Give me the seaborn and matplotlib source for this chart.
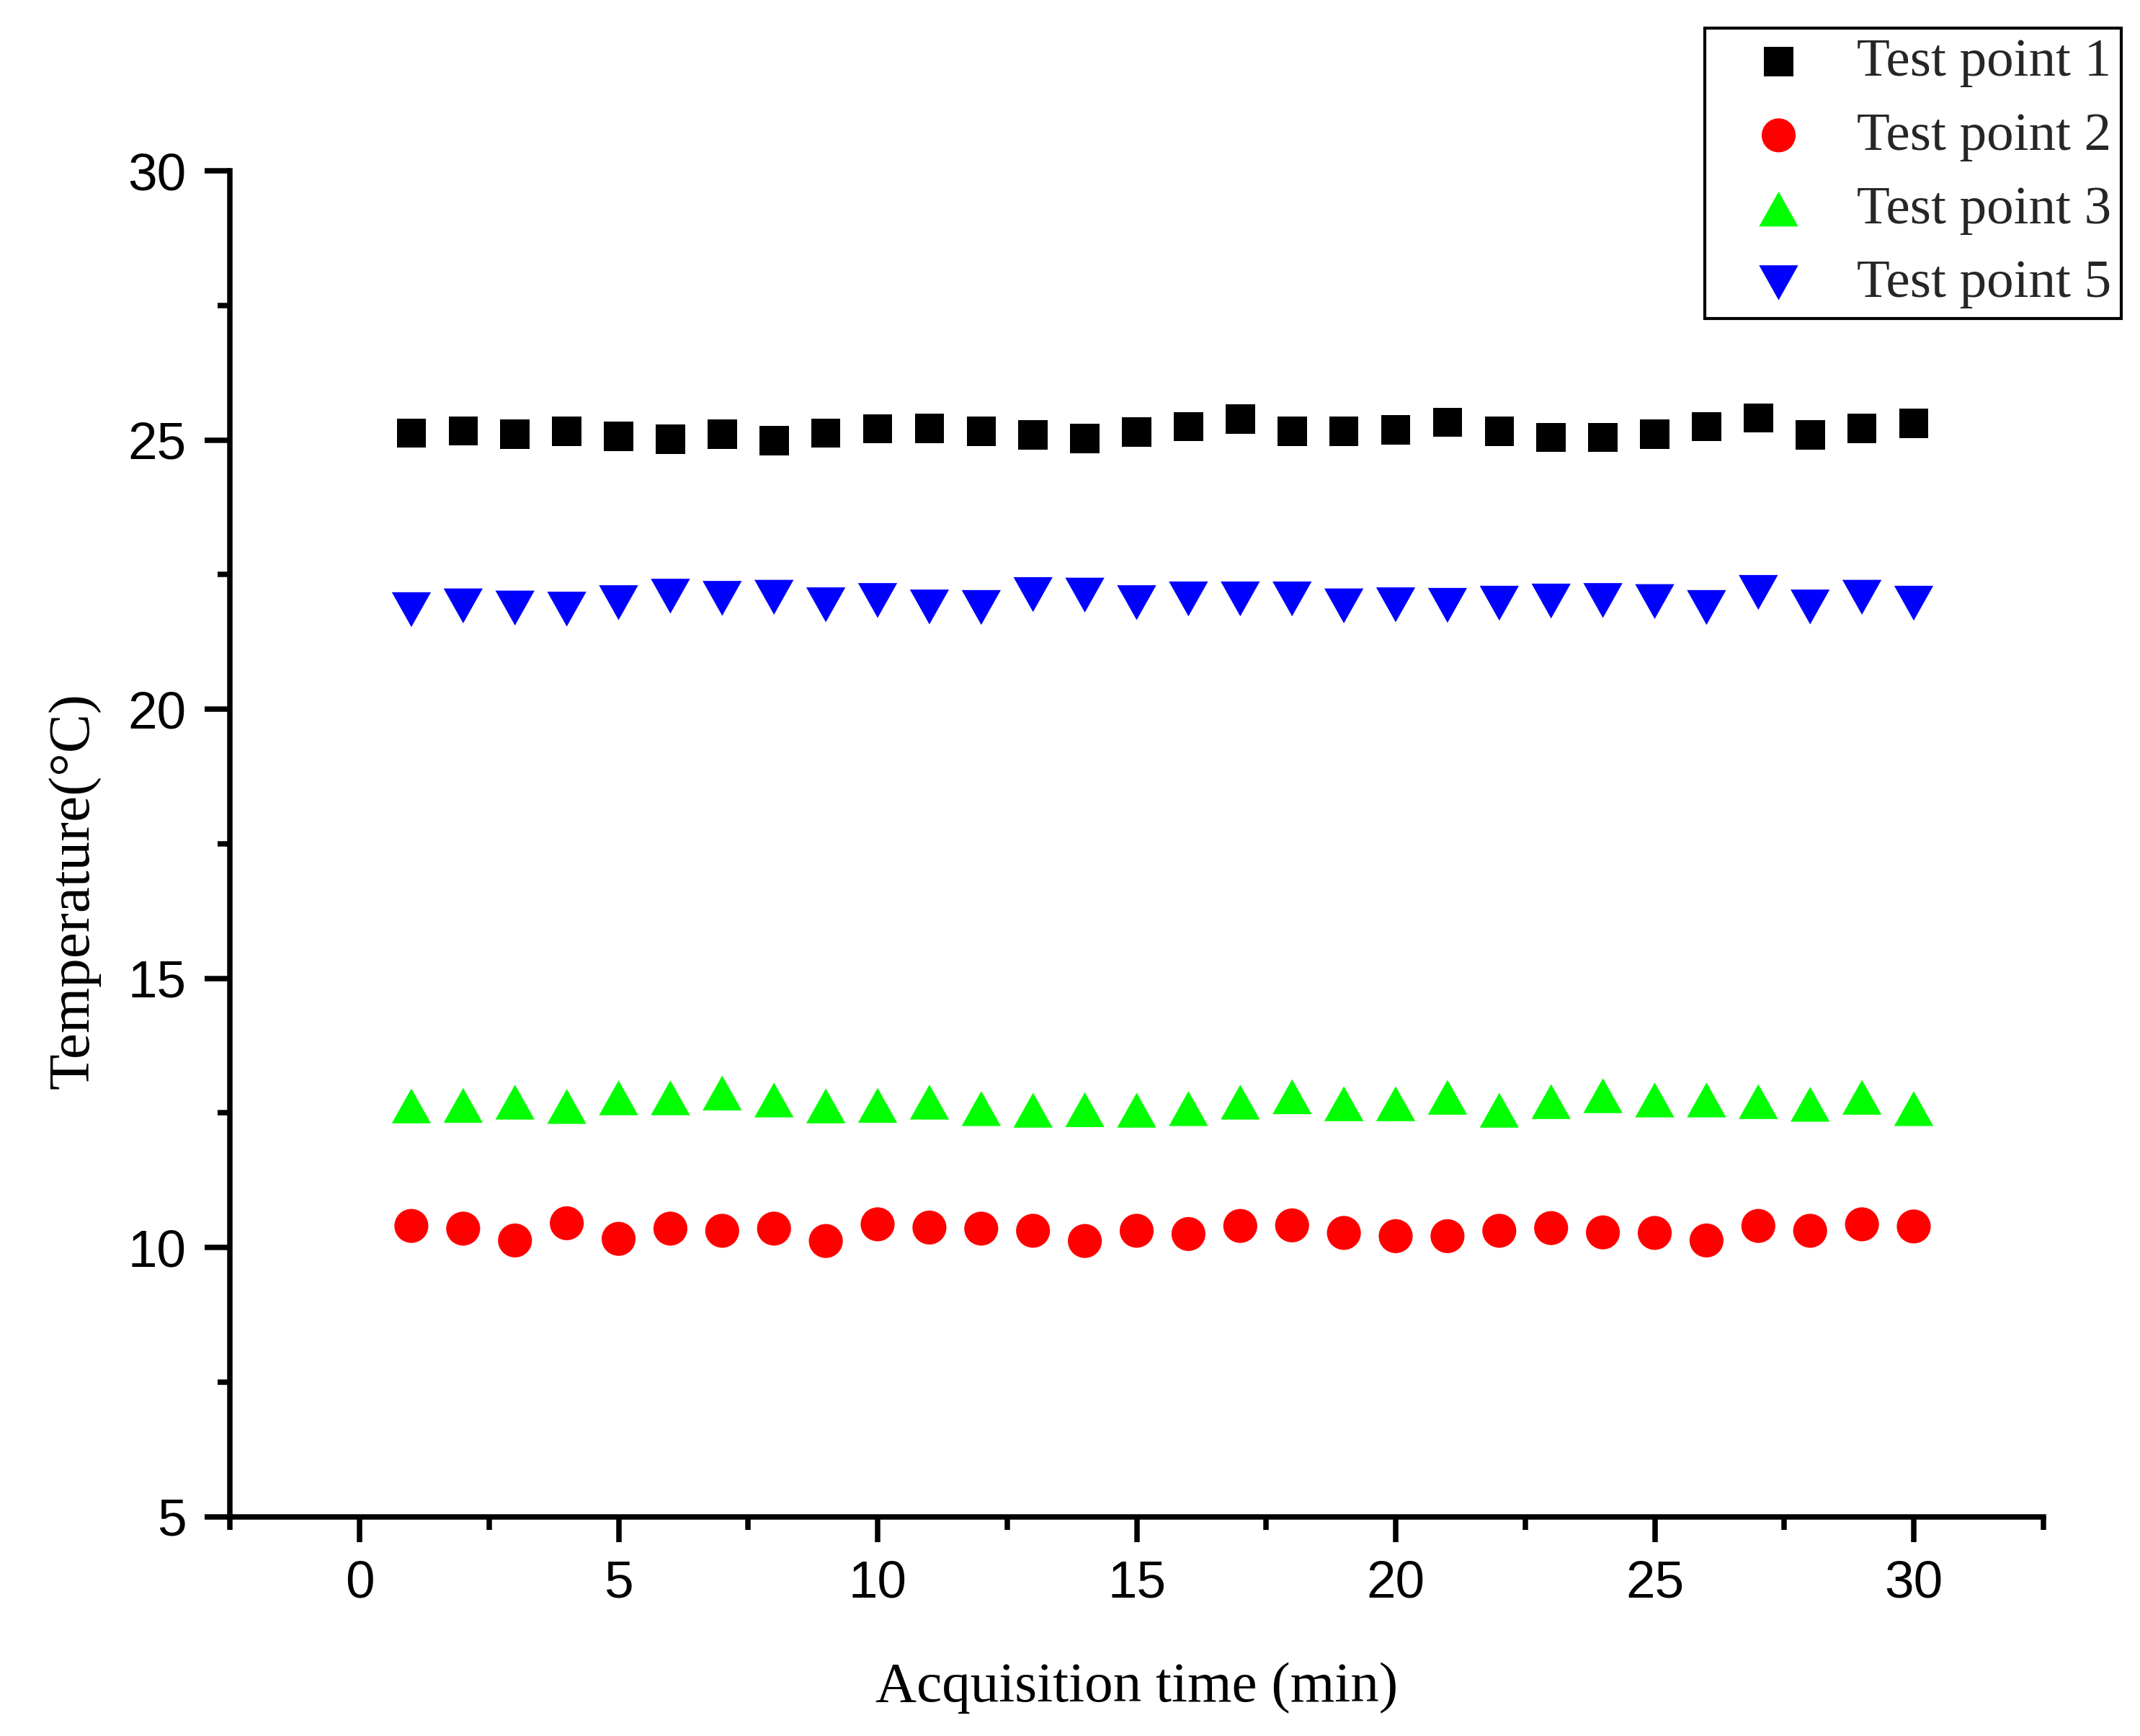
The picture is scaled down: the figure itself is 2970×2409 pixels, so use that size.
import numpy as np
import pandas as pd
import matplotlib
matplotlib.use('Agg')
import matplotlib.pyplot as plt
import seaborn as sns
from matplotlib.ticker import MultipleLocator

# acquisition time (min)
time_min = list(range(1, 31))

# temperatures (deg C)
test_point_1 = [25.13, 25.17, 25.11, 25.16, 25.07, 25.02, 25.11, 24.99, 25.13, 25.21,
                25.22, 25.16, 25.10, 25.03, 25.15, 25.25, 25.39, 25.16, 25.16, 25.19,
                25.33, 25.16, 25.05, 25.05, 25.11, 25.25, 25.41, 25.10, 25.22, 25.31]
test_point_2 = [10.40, 10.35, 10.13, 10.45, 10.16, 10.35, 10.31, 10.35, 10.12, 10.43,
                10.37, 10.35, 10.31, 10.12, 10.31, 10.25, 10.40, 10.41, 10.27, 10.21,
                10.21, 10.31, 10.36, 10.28, 10.27, 10.13, 10.40, 10.31, 10.43, 10.39]
test_point_3 = [12.63, 12.64, 12.70, 12.62, 12.78, 12.78, 12.87, 12.74, 12.63, 12.64,
                12.70, 12.58, 12.55, 12.56, 12.55, 12.58, 12.70, 12.80, 12.67, 12.67,
                12.79, 12.55, 12.71, 12.82, 12.74, 12.74, 12.71, 12.66, 12.79, 12.58]
test_point_5 = [21.85, 21.92, 21.88, 21.86, 21.98, 22.10, 22.06, 22.08, 21.94, 22.02,
                21.90, 21.89, 22.13, 22.12, 21.98, 22.05, 22.05, 22.05, 21.92, 21.94,
                21.93, 21.97, 22.01, 22.02, 22.00, 21.89, 22.17, 21.90, 22.08, 21.97]

series_names = ['Test point 1', 'Test point 2', 'Test point 3', 'Test point 5']
series_values = [test_point_1, test_point_2, test_point_3, test_point_5]

data = pd.DataFrame({'time': time_min * 4,
                     'temp': sum(series_values, []),
                     'series': np.repeat(series_names, len(time_min))})

# marker look per series (Origin style)
tri_up = np.array([(0, 0.89), (-1, -0.89), (1, -0.89)])
tri_down = np.array([(0, -0.89), (-1, 0.89), (1, 0.89)])
styles = {
    'Test point 1': dict(color='#000000', marker='s', s=95),
    'Test point 2': dict(color='#FF0000', marker='o', s=128),
    'Test point 3': dict(color='#00FF00', marker=tri_up, s=170),
    'Test point 5': dict(color='#0000FF', marker=tri_down, s=170),
}

sns.set_theme(style='ticks')
plt.rcParams['font.family'] = ['Liberation Sans', 'DejaVu Sans']

fig = plt.figure(figsize=(9.9, 8.03), dpi=300)
ax = fig.add_axes([0.1075, 0.1264, 0.8473, 0.7751])

for name in series_names:
    subset = data[data['series'] == name]
    st = styles[name]
    sns.scatterplot(data=subset, x='time', y='temp', ax=ax, color=st['color'],
                    marker=st['marker'], s=st['s'], edgecolor='none', linewidth=0,
                    label=name)

ax.set_xlim(-2.5, 32.5)
ax.set_ylim(5, 30)
ax.xaxis.set_major_locator(MultipleLocator(5))
ax.xaxis.set_minor_locator(MultipleLocator(2.5))
ax.yaxis.set_major_locator(MultipleLocator(5))
ax.yaxis.set_minor_locator(MultipleLocator(2.5))

sns.despine(ax=ax)
for side in ['left', 'bottom']:
    ax.spines[side].set_linewidth(1.8)
    ax.spines[side].set_color('black')
ax.tick_params(which='major', direction='out', length=8.5, width=1.8, color='black',
               labelsize=17.5, pad=6, labelcolor='black')
ax.tick_params(which='minor', direction='out', length=4.2, width=1.8, color='black')

serif = ['Liberation Serif', 'DejaVu Serif']
ax.set_xlabel('Acquisition time (min)', family=serif, fontsize=19, labelpad=18, color='black')
ax.set_ylabel('Temperature(°C)', family=serif, fontsize=19.5, labelpad=9, color='black')
ax.yaxis.label.set_y(0.465)

leg = ax.legend(loc='upper left', bbox_to_anchor=(0.7968, 0.9837),
                bbox_transform=fig.transFigure, borderaxespad=0, frameon=True,
                fancybox=False, shadow=False, framealpha=1, edgecolor='black',
                prop={'family': serif, 'size': 18}, borderpad=0.18,
                handlelength=2.36, handletextpad=0.27, labelspacing=0.45,
                scatterpoints=1)
leg.get_frame().set_linewidth(1.0)

fig.savefig('out.png', dpi=300, facecolor='white')
